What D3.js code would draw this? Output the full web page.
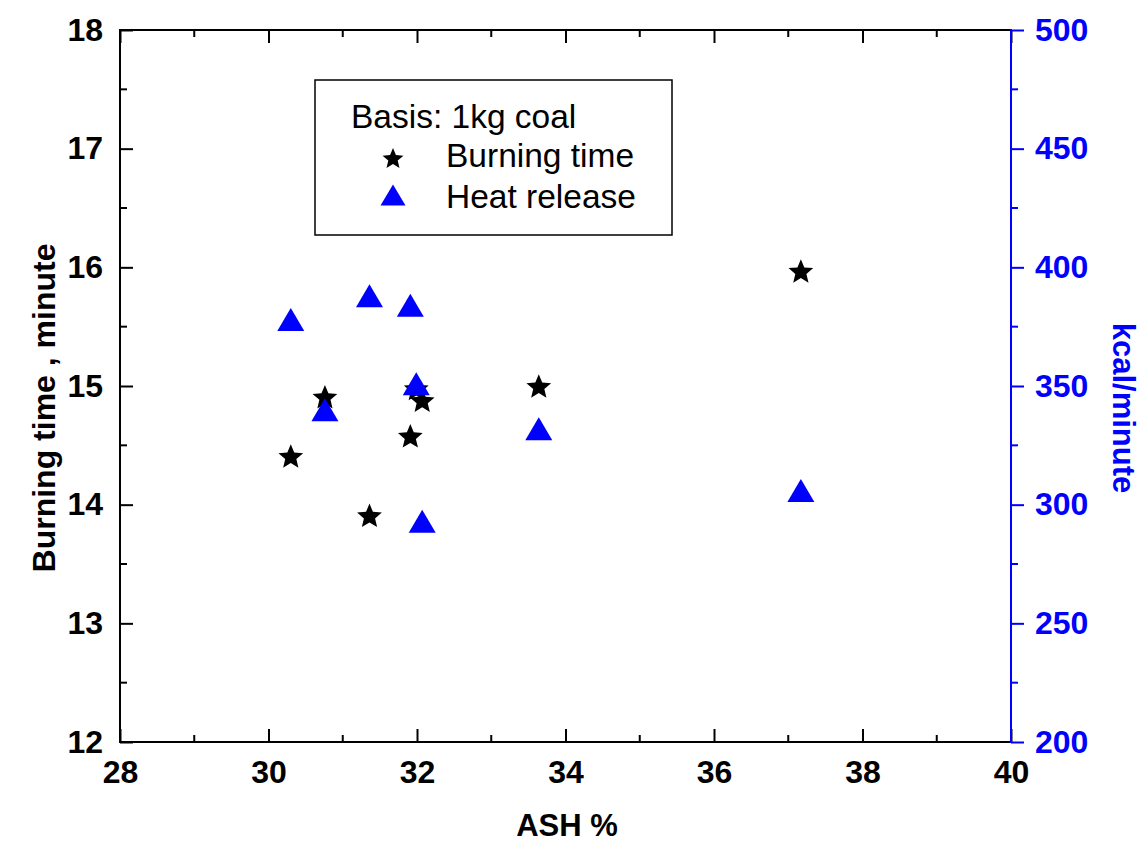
<!DOCTYPE html>
<html>
<head>
<meta charset="utf-8">
<script src="https://cdn.jsdelivr.net/npm/d3@7"></script>
<style>
  body { margin: 0; background: #fff; }
  text { font-family: "Liberation Sans", Arial, sans-serif; }
</style>
</head>
<body>
<svg id="chart" width="1140" height="844"></svg>
<script>
// ash content (%) for each coal sample
const ash = [30.30, 30.76, 31.36, 31.91, 31.99, 32.07, 33.64, 37.17]
// burning time, minutes (left axis)
const burningTime = [14.41, 14.91, 13.91, 14.58, 14.98, 14.88, 15.00, 15.97]
// heat release, kcal/minute (right axis)
const heatRelease = [378, 340, 388, 384, 351, 293, 332, 306]

const xTicks = [28, 30, 32, 34, 36, 38, 40]
const yLeftTicks = [12, 13, 14, 15, 16, 17, 18]
const yRightTicks = [200, 250, 300, 350, 400, 450, 500]

const svg = d3.select('#chart')
const mLeft = 120, mRight = 1011, mTop = 30, mBottom = 742

const x = d3.scaleLinear().domain([28, 40]).range([mLeft, mRight])
const yL = d3.scaleLinear().domain([12, 18]).range([mBottom, mTop])
const yR = d3.scaleLinear().domain([200, 500]).range([mBottom, mTop])

// minor ticks halfway between the majors
const mid = arr => arr.slice(0, -1).map((v, i) => (v + arr[i + 1]) / 2)

function styleAxis(g, color) {
    g.select('.domain').remove()
    g.selectAll('.tick line').attr('stroke', color).attr('stroke-width', 2)
    g.selectAll('.tick text')
        .attr('fill', color)
        .attr('font-size', 32)
        .attr('font-weight', 'bold')
}

// bottom axis, ticks pointing in
const gx = svg.append('g').attr('transform', `translate(0,${mBottom})`)
    .call(d3.axisBottom(x).tickValues(xTicks).tickFormat(d3.format('d')).tickSizeInner(-13).tickSizeOuter(0))
styleAxis(gx, '#000')
gx.selectAll('.tick text').attr('dy', 0).attr('y', 41)
svg.append('g').selectAll('line').data(mid(xTicks)).join('line')
    .attr('x1', d => x(d)).attr('x2', d => x(d))
    .attr('y1', mBottom).attr('y2', mBottom - 7)
    .attr('stroke', '#000').attr('stroke-width', 2)

// top axis, no labels
const gt = svg.append('g').attr('transform', `translate(0,${mTop})`)
    .call(d3.axisTop(x).tickValues(xTicks).tickSizeInner(-13).tickSizeOuter(0).tickFormat(''))
styleAxis(gt, '#000')
svg.append('g').selectAll('line').data(mid(xTicks)).join('line')
    .attr('x1', d => x(d)).attr('x2', d => x(d))
    .attr('y1', mTop).attr('y2', mTop + 7)
    .attr('stroke', '#000').attr('stroke-width', 2)

// left axis
const gl = svg.append('g').attr('transform', `translate(${mLeft},0)`)
    .call(d3.axisLeft(yL).tickValues(yLeftTicks).tickFormat(d3.format('d')).tickSizeInner(-13).tickSizeOuter(0))
styleAxis(gl, '#000')
gl.selectAll('.tick text').attr('x', -17)
svg.append('g').selectAll('line').data(mid(yLeftTicks)).join('line')
    .attr('x1', mLeft).attr('x2', mLeft + 7)
    .attr('y1', d => yL(d)).attr('y2', d => yL(d))
    .attr('stroke', '#000').attr('stroke-width', 2)

// right axis, blue, ticks pointing out
const gr = svg.append('g').attr('transform', `translate(${mRight},0)`)
    .call(d3.axisRight(yR).tickValues(yRightTicks).tickFormat(d3.format('d')).tickSizeInner(13).tickSizeOuter(0))
styleAxis(gr, 'blue')
gr.selectAll('.tick text').attr('x', 24)
svg.append('g').selectAll('line').data(mid(yRightTicks)).join('line')
    .attr('x1', mRight).attr('x2', mRight + 7)
    .attr('y1', d => yR(d)).attr('y2', d => yR(d))
    .attr('stroke', 'blue').attr('stroke-width', 2)

// frame lines
svg.append('line').attr('x1', mLeft).attr('x2', mRight).attr('y1', mBottom).attr('y2', mBottom)
    .attr('stroke', '#000').attr('stroke-width', 2)
svg.append('line').attr('x1', mLeft).attr('x2', mRight).attr('y1', mTop).attr('y2', mTop)
    .attr('stroke', '#000').attr('stroke-width', 2)
svg.append('line').attr('x1', mLeft).attr('x2', mLeft).attr('y1', mTop - 1).attr('y2', mBottom + 1)
    .attr('stroke', '#000').attr('stroke-width', 2)
svg.append('line').attr('x1', mRight).attr('x2', mRight).attr('y1', mTop - 1).attr('y2', mBottom + 1)
    .attr('stroke', 'blue').attr('stroke-width', 2)

// marker paths
function starPath(R) {
    const r = R * 0.45
    const pts = d3.range(10).map(i => {
        const a = -Math.PI / 2 + i * Math.PI / 5
        const rr = i % 2 ? r : R
        return [rr * Math.cos(a), rr * Math.sin(a)]
    })
    // shift so the bounding box is centred
    const dy = (R - R * Math.cos(Math.PI / 5)) / 2
    return 'M' + pts.map(p => [p[0], p[1] + dy].join(',')).join('L') + 'Z'
}
function triPath(w, h) {
    return `M0,${-h / 2}L${w / 2},${h / 2}L${-w / 2},${h / 2}Z`
}

const pts = ash.map((a, i) => ({ash: a, bt: burningTime[i], hr: heatRelease[i]}))

svg.append('g').selectAll('path').data(pts).join('path')
    .attr('d', starPath(13))
    .attr('transform', d => `translate(${x(d.ash)},${yL(d.bt)})`)
    .attr('fill', '#000')

svg.append('g').selectAll('path').data(pts).join('path')
    .attr('d', triPath(27, 23))
    .attr('transform', d => `translate(${x(d.ash)},${yR(d.hr)})`)
    .attr('fill', 'blue')

// legend
const lg = svg.append('g')
lg.append('rect').attr('x', 315).attr('y', 80).attr('width', 357).attr('height', 155)
    .attr('fill', 'none').attr('stroke', '#000').attr('stroke-width', 1.5)
lg.append('text').attr('x', 351).attr('y', 128).attr('font-size', 33.5).text('Basis: 1kg coal')
lg.append('path').attr('d', starPath(11)).attr('transform', 'translate(393,158)').attr('fill', '#000')
lg.append('text').attr('x', 446).attr('y', 167).attr('font-size', 33.5).text('Burning time')
lg.append('path').attr('d', triPath(25, 21)).attr('transform', 'translate(393,195)').attr('fill', 'blue')
lg.append('text').attr('x', 446).attr('y', 208).attr('font-size', 33.5).text('Heat release')

// axis titles
svg.append('text').attr('x', 567).attr('y', 836).attr('text-anchor', 'middle')
    .attr('font-size', 31).attr('font-weight', 'bold').text('ASH %')
svg.append('text').attr('transform', 'translate(55,408) rotate(-90)').attr('text-anchor', 'middle')
    .attr('font-size', 32).attr('font-weight', 'bold').text('Burning time , minute')
svg.append('text').attr('transform', 'translate(1113,408) rotate(90)').attr('text-anchor', 'middle')
    .attr('font-size', 31).attr('font-weight', 'bold').attr('fill', 'blue').text('kcal/minute')
</script>
</body>
</html>
